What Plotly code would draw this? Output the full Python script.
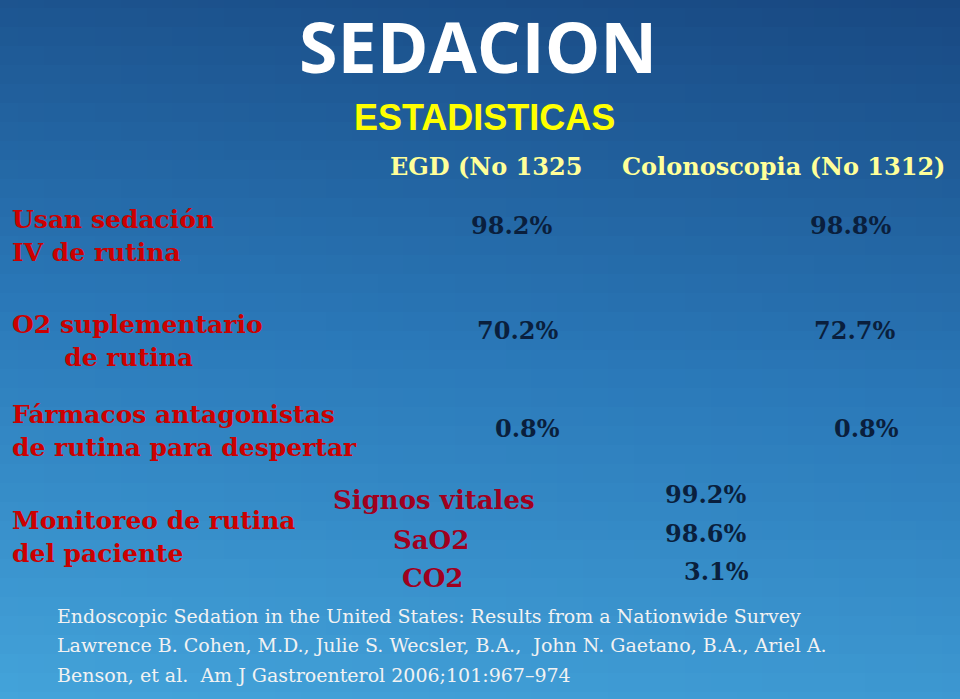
import numpy as np
import plotly.graph_objects as go

title = "SEDACION"
subtitle = "ESTADISTICAS"
headers = ["EGD (No 1325", "Colonoscopia (No 1312)"]
row_labels = ["Usan sedación<br>IV de rutina",
              "O2 suplementario<br>      de rutina",
              "Fármacos antagonistas<br>de rutina para despertar",
              "Monitoreo de rutina<br>del paciente"]
egd_values = ["98.2%", "70.2%", "0.8%"]
colon_values = ["98.8%", "72.7%", "0.8%"]
monitor_items = ["Signos vitales", "SaO2", "CO2"]
monitor_values = ["99.2%", "98.6%", "3.1%"]
citation = ["Endoscopic Sedation in the United States: Results from a Nationwide Survey",
            "Lawrence B. Cohen, M.D., Julie S. Wecsler, B.A.,  John N. Gaetano, B.A., Ariel A.",
            "Benson, et al.  Am J Gastroenterol 2006;101:967–974"]

# background gradient (dark top-left to light bottom)
gx = np.linspace(-20, 980, 40)
gy = np.linspace(-20, 720, 40)
gz = np.add.outer(gy / 699 * 1.0, -gx / 960 * 0.15)

fig = go.Figure(go.Heatmap(x=gx, y=gy, z=gz, showscale=False, hoverinfo="skip",
                           colorscale=[[0, "#17457e"], [0.5, "#2a78b8"], [1, "#45a6dc"]]))

serif = "DejaVu Serif"
ann = []
def add(text, x, y, size, color, family=serif, xanchor="center", bold=True):
    ann.append(dict(text=f"<b>{text}</b>" if bold else text, x=x, y=y, xref="x", yref="y",
                    showarrow=False, xanchor=xanchor, yanchor="middle", align="left",
                    font=dict(size=size, color=color, family=family)))

add(title, 478, 46, 70, "white", family="Open Sans")
add(subtitle, 484, 117, 36, "#ffff00", family="Liberation Sans")
add(headers[0], 388, 166, 24, "#ffff99", xanchor="left")
add(headers[1], 620, 166, 24, "#ffff99", xanchor="left")
for lab, yy in zip(row_labels, [236, 341, 431, 537]):
    add(lab, 10, yy, 25, "#cc0000", xanchor="left")
for v, xx, yy in zip(egd_values, [511, 517, 527], [225, 330, 428]):
    add(v, xx, yy, 24, "#0a1f3d")
for v, xx, yy in zip(colon_values, [850, 854, 866], [225, 330, 428]):
    add(v, xx, yy, 24, "#0a1f3d")
for m, xx, yy in zip(monitor_items, [434, 431, 432], [500, 540, 578]):
    add(m, xx, yy, 26, "#a0001e")
for v, xx, yy in zip(monitor_values, [705, 705, 716], [494, 533, 571]):
    add(v, xx, yy, 24, "#0a1f3d")
for line, yy in zip(citation, [616, 645, 675]):
    add(line, 55, yy, 19, "#f2f2f2", xanchor="left", bold=False)

fig.update_layout(
    width=960, height=699, margin=dict(l=0, r=0, t=0, b=0),
    annotations=ann, showlegend=False,
    xaxis=dict(range=[0, 960], visible=False, fixedrange=True),
    yaxis=dict(range=[699, 0], visible=False, fixedrange=True),
    plot_bgcolor="#2a78b8", paper_bgcolor="#2a78b8",
)
fig.write_html("out.html", config={"displayModeBar": False},
               post_script="document.body.style.margin='0';document.body.style.overflow='hidden';")
